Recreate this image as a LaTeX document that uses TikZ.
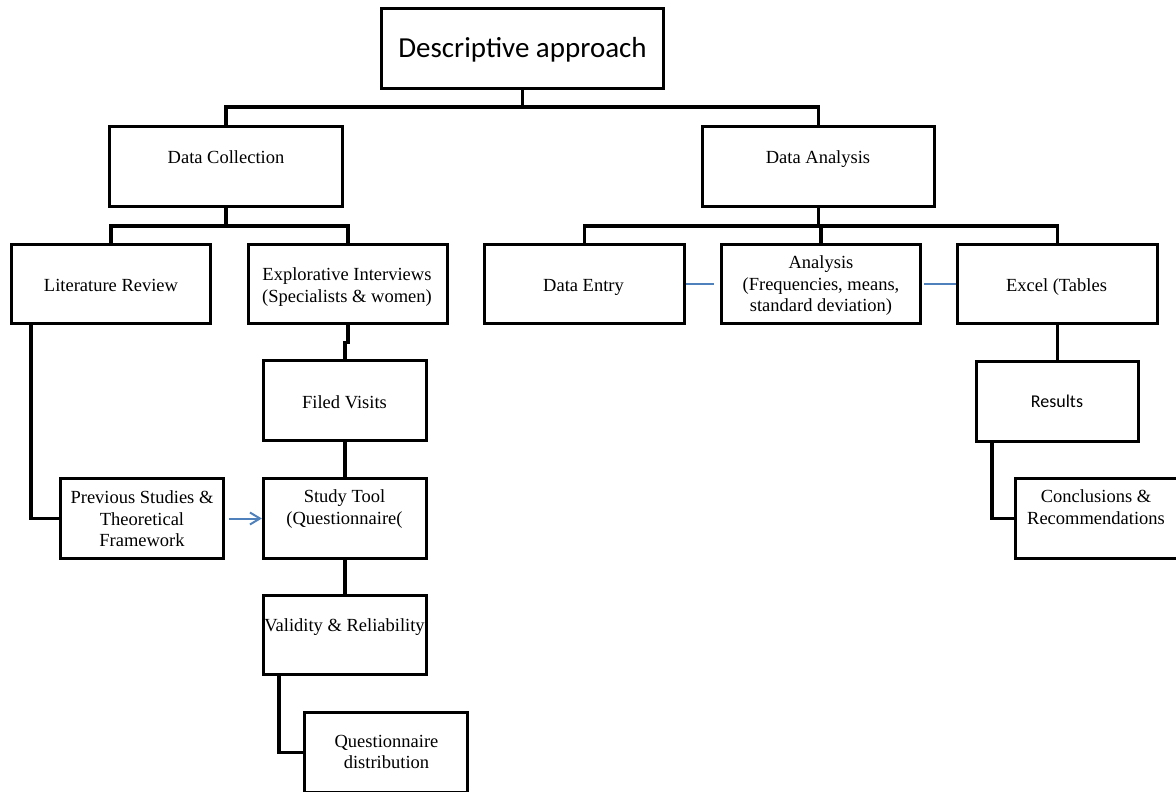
\documentclass[tikz,border=0pt]{standalone}
\usepackage{fontspec}
\setmainfont{Liberation Serif}
\newfontfamily\calibrifont{Carlito}
\usetikzlibrary{arrows.meta}
\definecolor{blueline}{RGB}{79,129,189}
\begin{document}
\begin{tikzpicture}[x=1pt,y=-1pt,
  bx/.style={draw=black, line width=3.2pt, rectangle, minimum width=#1, minimum height=80pt, inner sep=0pt},
  conn/.style={draw=black, line width=3.2pt},
  bl/.style={draw=blueline, line width=2pt},
  txt/.style={font=\fontsize{18.5}{21.5}\selectfont, align=center, inner sep=0pt},
  stxt/.style={font=\calibrifont\fontsize{18}{21.5}\selectfont, inner sep=0pt}
]
\useasboundingbox (0,0) rectangle (1176,792);
\fill[white] (0,0) rectangle (1176,792);
\clip (0,0) rectangle (1176,792);

% boxes
\node[bx=282pt] (desc) at (522.5,48.5) {};
\node[bx=233pt] (dc) at (226,166.5) {};
\node[bx=232pt] (da) at (818.5,166.5) {};
\node[bx=199pt, minimum height=79pt] (lr) at (111,284) {};
\node[bx=199pt, minimum height=79pt] (ei) at (348,284) {};
\node[bx=200pt, minimum height=79pt] (de) at (584.5,284) {};
\node[bx=199pt, minimum height=79pt] (an) at (821,284) {};
\node[bx=200pt, minimum height=79pt] (ex) at (1057.5,284) {};
\node[bx=163pt] (fv) at (345,400.5) {};
\node[bx=163pt] (ps) at (142,518.5) {};
\node[bx=163pt] (st) at (345,518.5) {};
\node[bx=163pt, minimum height=79pt] (vr) at (345,635) {};
\node[bx=163pt] (qd) at (386,752.5) {};
\node[bx=162pt] (rs) at (1057.5,401.5) {};
\node[bx=163pt] (cr) at (1097,518.5) {};

% texts
\node[inner sep=0pt, anchor=base, font=\calibrifont\fontsize{29}{34}\selectfont] (descT) at (522.5,58) {Descriptive approach};
\node[txt, anchor=base] (dcT) at (226,163) {Data Collection};
\node[txt, anchor=base] (daT) at (818,163) {Data Analysis};
\node[txt, anchor=base] (lrT) at (111,291.5) {Literature Review};
\node[txt] (eiT) at (347,287) {Explorative Interviews\\(Specialists \& women)};
\node[txt, anchor=base] (deT) at (583.5,291.5) {Data Entry};
\node[txt] (anT) at (821,286) {Analysis\\(Frequencies, means,\\standard deviation)};
\node[txt, anchor=base] (exT) at (1056.5,291.5) {Excel (Tables};
\node[txt, anchor=base] (fvT) at (344.5,408) {Filed Visits};
\node[stxt, anchor=base] (rsT) at (1057,407) {Results};
\node[txt] (psT) at (142,519) {Previous Studies \&\\Theoretical\\Framework};
\node[txt] (stT) at (344.5,509) {Study Tool\\(Questionnaire(};
\node[txt, anchor=base] (vrT) at (344.5,631) {Validity \& Reliability};
\node[txt] (qdT) at (386.5,752) {Questionnaire\\distribution};
\node[txt] (crT) at (1096,507) {Conclusions \&\\Recommendations};

% connectors
\coordinate (j1) at (522.5,107);
\draw[conn] (desc.south) -- (j1);
\draw[conn] (dc.north) |- (j1) -| (da.north);

\coordinate (j2) at (226,226);
\draw[conn] (dc.south) -- (j2);
\draw[conn] (lr.north) |- (j2) -| (ei.north);

\coordinate (j3) at (818.5,226);
\draw[conn] (da.south) -- (j3);
\draw[conn] (de.north) |- (j3) -| (ex.north);
\draw[conn] (an.north) -- (an.north |- j3);

\draw[conn] (ei.south) -- ++(0,17) -| (fv.north);
\draw[conn] (fv.south) -- (st.north);
\draw[conn] (st.south) -- (vr.north);
\draw[conn] ([xshift=17pt]vr.south west) |- (qd.west);
\draw[conn] ([xshift=21pt]lr.south west) |- (ps.west);
\draw[conn] (ex.south) -- (rs.north);
\draw[conn] ([xshift=17pt]rs.south west) |- (cr.west);

% blue links
\draw[bl] (de.east) -- ([xshift=-6pt]an.west);
\draw[bl] ([xshift=2pt]an.east) -- (ex.west);
\draw[bl, -{Straight Barb[length=10pt,width=12pt]}] ([xshift=4pt]ps.east) -- (st.west);
\end{tikzpicture}
\end{document}
